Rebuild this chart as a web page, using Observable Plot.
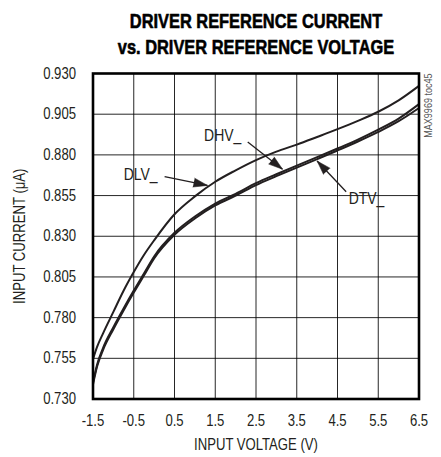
<!DOCTYPE html>
<html>
<head>
<meta charset="utf-8">
<script src="https://cdn.jsdelivr.net/npm/d3@7"></script>
<script src="https://cdn.jsdelivr.net/npm/@observablehq/plot@0.6"></script>
<style>
  html, body { margin: 0; padding: 0; background: #fff; }
</style>
</head>
<body>
<div id="chart"></div>
<script>
// ---- data ----
const inputVoltage = [-1.5, -1.4, -1.25, -1.0, -0.75, -0.5, -0.25, 0, 0.5, 1.0, 1.5, 2.0, 2.5, 3.0, 3.5, 4.0, 4.5, 5.0, 5.5, 6.0, 6.5];
const currentDLV = [0.7545, 0.762, 0.7705, 0.7835, 0.7965, 0.808, 0.8185, 0.8275, 0.8435, 0.8545, 0.8635, 0.8705, 0.8768, 0.882, 0.8863, 0.891, 0.8958, 0.9009, 0.9065, 0.9135, 0.9224];
const currentDHV = [0.7401, 0.7511, 0.7616, 0.7741, 0.7856, 0.7966, 0.8071, 0.8176, 0.8321, 0.8421, 0.8501, 0.8561, 0.8626, 0.8681, 0.8734, 0.8786, 0.8839, 0.8894, 0.8955, 0.9023, 0.9112];
const currentDTV = [0.7389, 0.7499, 0.7604, 0.7729, 0.7844, 0.7954, 0.8059, 0.8164, 0.8309, 0.8409, 0.8489, 0.8549, 0.8614, 0.8669, 0.8722, 0.8774, 0.8827, 0.8882, 0.8941, 0.9007, 0.9088];

const xTicks = [-1.5, -0.5, 0.5, 1.5, 2.5, 3.5, 4.5, 5.5, 6.5];
const yTicks = [0.730, 0.755, 0.780, 0.805, 0.830, 0.855, 0.880, 0.905, 0.930];

const titleLines = ["DRIVER REFERENCE CURRENT", "vs. DRIVER REFERENCE VOLTAGE"];
const xLabel = "INPUT VOLTAGE (V)";
const yLabel = "INPUT CURRENT (\u03bcA)";
const tocNote = "MAX9969 toc45";

// annotation labels (data coordinates): label position, arrow start, arrow tip
const annLabels = ["DLV_", "DHV_", "DTV_"];
const annTextX = [-0.333, 1.683, 5.212];
const annTextY = [0.8682, 0.8919, 0.8533];
const annFromX = [0.257, 2.297, 4.713];
const annFromY = [0.8667, 0.8879, 0.8573];
const annToX = [1.31, 3.15, 4.0];
const annToY = [0.8612, 0.8712, 0.8762];

// ---- layout ----
const W = 441, H = 457;
const mL = 92.5, mR = 22.5, mT = 73, mB = 58.5;
const xDomain = [-1.5, 6.5], yDomain = [0.730, 0.930];
const kx = (W - mL - mR) / (xDomain[1] - xDomain[0]);
const ky = (H - mT - mB) / (yDomain[1] - yDomain[0]);
const NARROW = 0.82; // horizontal squeeze: Liberation Sans -> narrow Helvetica look

const ink = "#231f20";
const FONT = "'Liberation Sans', Arial, sans-serif";

const rows = [];
inputVoltage.forEach((v, i) => {
  rows.push({series: "DLV_", v, i: currentDLV[i]});
  rows.push({series: "DHV_", v, i: currentDHV[i]});
  rows.push({series: "DTV_", v, i: currentDTV[i]});
});

const ann = annLabels.map((label, j) => {
  const dxs = (annToX[j] - annFromX[j]) * kx;
  const dys = -(annToY[j] - annFromY[j]) * ky;
  return {
    label,
    tx: annTextX[j], ty: annTextY[j],
    x1: annFromX[j], y1: annFromY[j],
    x2: annToX[j], y2: annToY[j],
    angle: Math.atan2(dxs, -dys) * 180 / Math.PI
  };
});

const chart = Plot.plot({
  width: W,
  height: H,
  marginLeft: mL,
  marginRight: mR,
  marginTop: mT,
  marginBottom: mB,
  style: {fontFamily: FONT, fontSize: "16px", color: ink, background: "#fff"},
  x: {domain: xDomain},
  y: {domain: yDomain},
  marks: [
    Plot.gridX(xTicks, {stroke: "#000", strokeOpacity: 0.85, strokeWidth: 1}),
    Plot.gridY(yTicks, {stroke: "#000", strokeOpacity: 0.85, strokeWidth: 1}),
    Plot.axisX({ticks: xTicks, tickFormat: d => d.toFixed(1), tickSize: 0, tickPadding: 16, label: null, fontSize: 16}),
    Plot.axisY({ticks: yTicks, tickFormat: d => d.toFixed(3), tickSize: 0, tickPadding: 17, label: null, fontSize: 16}),
    Plot.line(rows, {x: "v", y: "i", z: "series", stroke: ink, strokeWidth: 2, curve: "monotone-x"}),
    Plot.frame({stroke: "#000", strokeWidth: 2.6}),
    // annotations
    Plot.link(ann, {x1: "x1", y1: "y1", x2: "x2", y2: "y2", stroke: ink, strokeWidth: 1.3}),
    Plot.vector(ann, {x: "x2", y: "y2", rotate: "angle", length: 14, shape: "spike", anchor: "end", r: 4.5, fill: ink, fillOpacity: 1, stroke: ink, strokeWidth: 0.5}),
    Plot.text(ann, {x: "tx", y: "ty", text: "label", fontSize: 17, fill: ink, lineAnchor: "middle", textAnchor: "middle"}),
    // titles and labels
    Plot.text([titleLines[0]], {frameAnchor: "top", dy: -52.2, lineAnchor: "middle", textAnchor: "middle", text: d => d, fontSize: 20, fontWeight: 700, fill: "#000", stroke: "#000", strokeWidth: 0.6}),
    Plot.text([titleLines[1]], {frameAnchor: "top", dy: -26.2, lineAnchor: "middle", textAnchor: "middle", text: d => d, fontSize: 20, fontWeight: 700, fill: "#000", stroke: "#000", strokeWidth: 0.6}),
    Plot.text([xLabel], {frameAnchor: "bottom", dy: 45.5, lineAnchor: "middle", textAnchor: "middle", text: d => d, fontSize: 16, fill: ink}),
    Plot.text([yLabel], {frameAnchor: "left", dx: -73.5, rotate: -90, lineAnchor: "middle", textAnchor: "middle", text: d => d, fontSize: 16, fill: ink}),
    Plot.text([tocNote], {frameAnchor: "top-right", dx: 9, dy: 0, rotate: -90, lineAnchor: "middle", textAnchor: "end", text: d => d, fontSize: 11, fill: "#555"})
  ]
});

document.getElementById("chart").appendChild(chart);

// squeeze every text horizontally (narrow type face look) without moving its anchor
chart.querySelectorAll("text").forEach(t => {
  const len = t.getComputedTextLength();
  if (len > 0) {
    t.setAttribute("textLength", (len * NARROW).toFixed(2));
    t.setAttribute("lengthAdjust", "spacingAndGlyphs");
  }
});
</script>
</body>
</html>
